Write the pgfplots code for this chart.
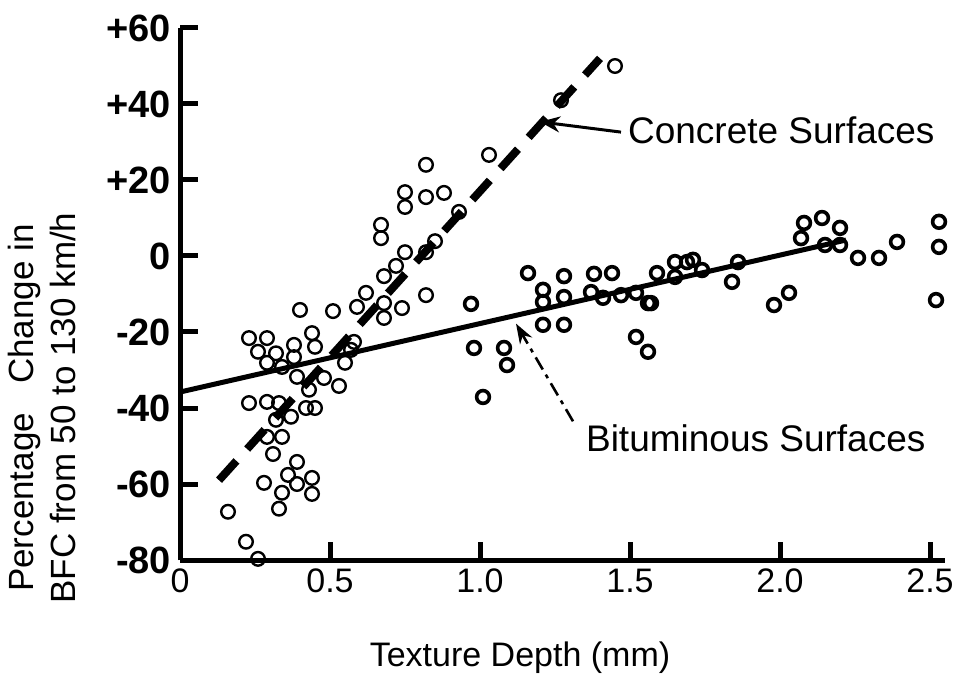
\documentclass[border=0pt]{standalone}
\usepackage{pgfplots}
\pgfplotsset{compat=1.18}
\usepackage{fontspec}
\setmainfont{Liberation Sans}
\usetikzlibrary{arrows.meta,calc}
\begin{document}
\begin{tikzpicture}
\begin{axis}[
  name=ax,
  scale only axis,
  width=382.5pt, height=266pt,
  xmin=0, xmax=2.55, ymin=-80, ymax=60,
  axis lines=left,
  axis line style={line width=2.5pt, -},
  xtick={0,0.5,1.0,1.5,2.0,2.5},
  xticklabels={0,0.5,1.0,1.5,2.0,2.5},
  ytick={-80,-60,-40,-20,0,20,40,60},
  yticklabels={-80,-60,-40,-20,0,+20,+40,+60},
  tick align=inside,
  major tick length=9pt,
  tick style={line width=2.5pt, black},
  xticklabel style={font=\fontsize{17}{20}\selectfont, yshift=-1pt},
  yticklabel style={font=\bfseries\fontsize{19}{22}\selectfont, xshift=-1pt},
  /pgf/number format/assume math mode=true,
  clip=false,
]
% concrete fit (dashed)
\addplot[black, line width=4pt, dash pattern=on 13pt off 8pt] coordinates {(0.13,-59) (1.40,52)};
% bituminous fit
\addplot[black, line width=2.5pt] coordinates {(0,-35.8) (2.22,4.2)};
% points - concrete
\addplot[only marks, mark=o, mark size=3.4pt, mark options={line width=1.2pt, black}] coordinates {
(1.45,50) (1.27,41) (1.03,26.6) (0.82,24) (0.75,16.8) (0.75,12.9) (0.82,15.5) (0.88,16.6)
(0.93,11.6) (0.85,3.9) (0.82,1) (0.67,8.2) (0.67,4.7) (0.75,1) (0.72,-2.6) (0.68,-5.3)
(0.62,-9.7) (0.59,-13.4) (0.51,-14.5) (0.68,-12.4) (0.74,-13.7) (0.68,-16.3) (0.82,-10.3)
(0.58,-22.6) (0.40,-14.2) (0.44,-20.3) (0.23,-21.6) (0.29,-21.6) (0.26,-25.2) (0.32,-25.6)
(0.38,-23.4) (0.45,-23.9) (0.57,-24.7) (0.38,-26.6) (0.29,-28.1) (0.55,-28.1)
(0.34,-29.2) (0.39,-31.8) (0.48,-32.1) (0.53,-34.2) (0.43,-35.2) (0.23,-38.7) (0.29,-38.4)
(0.33,-38.7) (0.42,-40) (0.45,-40) (0.32,-43.1) (0.37,-42.3) (0.29,-47.6) (0.34,-47.6)
(0.31,-52.1) (0.39,-54.2) (0.36,-57.6) (0.39,-60) (0.44,-58.4) (0.44,-62.6) (0.28,-59.7)
(0.34,-62.3) (0.33,-66.5) (0.16,-67.3) (0.22,-75.2) (0.26,-79.7)
};
% points - bituminous
\addplot[only marks, mark=o, mark size=3.2pt, mark options={line width=1.8pt, black}] coordinates {
(0.97,-12.6) (1.16,-4.5) (1.21,-8.9) (1.21,-12.1) (1.21,-18.1) (1.28,-5.3) (1.28,-10.8)
(1.28,-18.1) (1.38,-4.7) (1.44,-4.5) (1.37,-9.5) (1.41,-11) (1.47,-10.3) (1.52,-9.7)
(1.56,-12.4) (1.52,-21.3) (1.56,-25.2) (1.59,-4.5) (1.65,-1.6) (1.65,-5.5) (1.69,-1.6)
(0.98,-24.2) (1.08,-24.2) (1.09,-28.7) (1.01,-37.1) (1.71,-1) (1.74,-3.7) (1.86,-1.6)
(1.84,-6.8) (2.08,8.7) (2.07,4.7) (2.14,10) (2.20,7.4) (2.15,2.9) (2.20,2.9) (2.26,-0.5)
(2.33,-0.5) (2.39,3.7) (2.53,9) (2.53,2.4) (2.52,-11.6) (2.03,-9.7) (1.98,-12.9) (1.57,-12.4)
};
% annotations
\draw[-{Stealth[length=10pt,width=8pt]}, line width=1.5pt] (axis cs:1.47,32.6) -- (axis cs:1.2,35.3);
\node[anchor=west, font=\fontsize{18.5}{22}\selectfont] at (axis cs:1.47,33) {Concrete Surfaces};
\draw[-{Stealth[length=10pt,width=7pt]}, line width=1.3pt, dash pattern=on 7pt off 3pt on 2pt off 3pt] (axis cs:1.31,-43.5) -- (axis cs:1.12,-17.8);
\node[anchor=west, font=\fontsize{18.5}{22}\selectfont] at (axis cs:1.33,-48) {Bituminous Surfaces};
\end{axis}
\node[rotate=90, align=center, font=\fontsize{17.5}{21}\selectfont] at ($(ax.south west)+(-69pt,76pt)$) {Percentage\ \ \ Change in\\BFC from 50 to 130 km/h};
\node[font=\fontsize{17}{20}\selectfont] at ($(ax.south west)+(170pt,-49pt)$) {Texture Depth (mm)};
\pgfresetboundingbox
\path[use as bounding box] ($(ax.south west)+(-90pt,-62.5pt)$) rectangle ($(ax.north east)+(8pt,14pt)$);
\end{tikzpicture}
\end{document}
